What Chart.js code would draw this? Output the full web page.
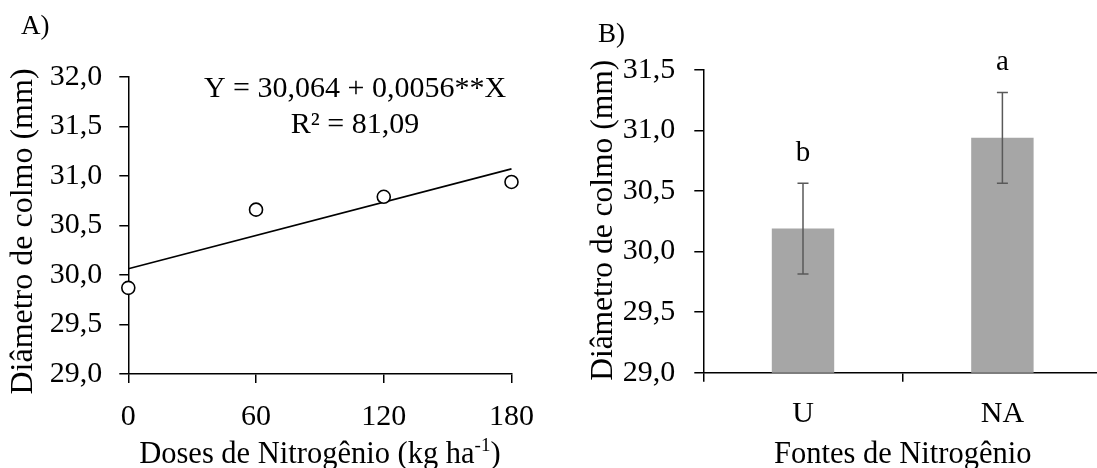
<!DOCTYPE html>
<html>
<head>
<meta charset="utf-8">
<script src="https://cdn.jsdelivr.net/npm/chart.js@4.4.1/dist/chart.umd.min.js"></script>
<style>
  html, body { margin: 0; padding: 0; background: #fff; }
  body { width: 1097px; height: 468px; overflow: hidden; position: relative; }
  #wa { position: absolute; left: 0; top: 0; width: 550px; height: 468px; }
  #wb { position: absolute; left: 550px; top: 0; width: 560px; height: 468px; }
</style>
</head>
<body>
<div id="wa"><canvas id="ca"></canvas></div>
<div id="wb"><canvas id="cb"></canvas></div>
<script>
// ---- Panel A data ----
const dosesX = [0, 60, 120, 180];
const diametroA = [29.87, 30.66, 30.79, 30.94];
const trendX = [0, 180];
const trendY = [30.064, 31.072];
const xTicksA = ['0', '60', '120', '180'];
const yTicksA = ['29,0', '29,5', '30,0', '30,5', '31,0', '31,5', '32,0'];
const equationLines = ['Y = 30,064 + 0,0056**X', 'R\u00B2 = 81,09'];

// ---- Panel B data ----
const fontes = ['U', 'NA'];
const diametroB = [30.19, 30.94];
const erroB = [0.375, 0.375];
const letrasB = ['b', 'a'];
const yTicksB = ['29,0', '29,5', '30,0', '30,5', '31,0', '31,5'];

const FONT = "'Liberation Serif', 'Times New Roman', serif";
Chart.defaults.font.family = FONT;
Chart.defaults.color = '#000';
Chart.defaults.animation = false;

const axisStyle = (tickLen) => ({
  grid: { display: true, drawOnChartArea: false, drawTicks: true, tickLength: tickLen, color: '#000', lineWidth: 1.5 },
  border: { display: true, color: '#000', width: 1.5 }
});

// ---------- Chart A ----------
const textA = {
  id: 'textA',
  afterDraw(chart) {
    const ctx = chart.ctx, ca = chart.chartArea;
    ctx.save();
    ctx.fillStyle = '#000';
    ctx.textBaseline = 'alphabetic';
    // panel label
    ctx.font = `27px ${FONT}`;
    ctx.textAlign = 'left';
    ctx.fillText('A)', 21, 34);
    // equation
    ctx.font = `30px ${FONT}`;
    ctx.textAlign = 'center';
    ctx.fillText(equationLines[0], 355, 97);
    ctx.fillText(equationLines[1], 355, 133);
    // x title with superscript
    const main = 'Doses de Nitrogênio (kg ha', sup = '-1', end = ')';
    ctx.font = `30.5px ${FONT}`;
    const w1 = ctx.measureText(main).width, w3 = ctx.measureText(end).width;
    ctx.font = `19px ${FONT}`;
    const w2 = ctx.measureText(sup).width;
    let x0 = (ca.left + ca.right) / 2 - (w1 + w2 + w3) / 2;
    ctx.textAlign = 'left';
    ctx.font = `30.5px ${FONT}`;
    ctx.fillText(main, x0, 463);
    ctx.font = `19px ${FONT}`;
    ctx.fillText(sup, x0 + w1, 451);
    ctx.font = `30.5px ${FONT}`;
    ctx.fillText(end, x0 + w1 + w2, 463);
    // y title
    ctx.font = `32px ${FONT}`;
    ctx.translate(32, (ca.top + ca.bottom) / 2 + 6);
    ctx.rotate(-Math.PI / 2);
    ctx.textAlign = 'center';
    ctx.fillText('Diâmetro de colmo (mm)', 0, 0);
    ctx.restore();
  }
};

new Chart(document.getElementById('ca'), {
  type: 'scatter',
  data: {
    datasets: [
      {
        type: 'scatter',
        data: dosesX.map((x, i) => ({ x, y: diametroA[i] })),
        pointRadius: 6.5,
        pointBackgroundColor: '#fff',
        pointBorderColor: '#000',
        pointBorderWidth: 1.6,
        clip: false,
        order: 1
      },
      {
        type: 'line',
        data: trendX.map((x, i) => ({ x, y: trendY[i] })),
        borderColor: '#000',
        borderWidth: 1.6,
        pointRadius: 0,
        fill: false,
        clip: false,
        order: 2
      }
    ]
  },
  options: {
    responsive: true,
    maintainAspectRatio: false,
    layout: { padding: { left: 0, top: 77, right: 38.3, bottom: 0 } },
    plugins: { legend: { display: false }, tooltip: { enabled: false } },
    scales: {
      x: {
        type: 'linear', min: 0, max: 180,
        ...axisStyle(9),
        ticks: { stepSize: 60, padding: 16, font: { size: 30 }, color: '#000',
          callback: (v, i) => xTicksA[i] },
        afterFit: (s) => { s.height = 468 - 374; }
      },
      y: {
        type: 'linear', min: 29, max: 32,
        ...axisStyle(9),
        ticks: { stepSize: 0.5, padding: 17, font: { size: 30 }, color: '#000',
          callback: (v, i) => yTicksA[i] },
        afterFit: (s) => { s.width = 128.3; }
      }
    }
  },
  plugins: [textA]
});

// ---------- Chart B ----------
const textB = {
  id: 'textB',
  afterDatasetsDraw(chart) {
    const ctx = chart.ctx, y = chart.scales.y;
    const meta = chart.getDatasetMeta(0);
    ctx.save();
    ctx.strokeStyle = '#595959';
    ctx.lineWidth = 1.5;
    meta.data.forEach((bar, i) => {
      const yh = y.getPixelForValue(diametroB[i] + erroB[i]);
      const yl = y.getPixelForValue(diametroB[i] - erroB[i]);
      const x = bar.x;
      ctx.beginPath();
      ctx.moveTo(x, yh); ctx.lineTo(x, yl);
      ctx.moveTo(x - 5.5, yh); ctx.lineTo(x + 5.5, yh);
      ctx.moveTo(x - 5.5, yl); ctx.lineTo(x + 5.5, yl);
      ctx.stroke();
      ctx.fillStyle = '#000';
      ctx.font = `29px ${FONT}`;
      ctx.textAlign = 'center';
      ctx.textBaseline = 'alphabetic';
      ctx.fillText(letrasB[i], x, yh - 22);
    });
    ctx.restore();
  },
  afterDraw(chart) {
    const ctx = chart.ctx, ca = chart.chartArea;
    ctx.save();
    ctx.fillStyle = '#000';
    ctx.textBaseline = 'alphabetic';
    ctx.font = `27px ${FONT}`;
    ctx.textAlign = 'left';
    ctx.fillText('B)', 48, 42);
    ctx.font = `30.5px ${FONT}`;
    ctx.textAlign = 'center';
    ctx.fillText('Fontes de Nitrogênio', (ca.left + ca.right) / 2, 463);
    ctx.font = `31.5px ${FONT}`;
    ctx.translate(62, (ca.top + ca.bottom) / 2 - 1);
    ctx.rotate(-Math.PI / 2);
    ctx.fillText('Diâmetro de colmo (mm)', 0, 0);
    ctx.restore();
  }
};

new Chart(document.getElementById('cb'), {
  type: 'bar',
  data: {
    labels: fontes,
    datasets: [{
      data: diametroB,
      backgroundColor: '#a6a6a6',
      borderWidth: 0,
      categoryPercentage: 1,
      barPercentage: 0.313
    }]
  },
  options: {
    responsive: true,
    maintainAspectRatio: false,
    layout: { padding: { left: 0, top: 70, right: 7.9, bottom: 0 } },
    plugins: { legend: { display: false }, tooltip: { enabled: false } },
    scales: {
      x: {
        ...axisStyle(9),
        grid: { display: true, drawOnChartArea: false, drawTicks: true, tickLength: 9, color: '#000', lineWidth: 1.5, offset: true },
        ticks: { padding: 14, font: { size: 30 }, color: '#000' },
        afterFit: (s) => { s.height = 468 - 372.7; }
      },
      y: {
        min: 29, max: 31.5,
        ...axisStyle(9),
        ticks: { stepSize: 0.5, padding: 19, font: { size: 30 }, color: '#000',
          callback: (v, i) => yTicksB[i] },
        afterFit: (s) => { s.width = 153.3; }
      }
    }
  },
  plugins: [textB]
});
</script>
</body>
</html>
